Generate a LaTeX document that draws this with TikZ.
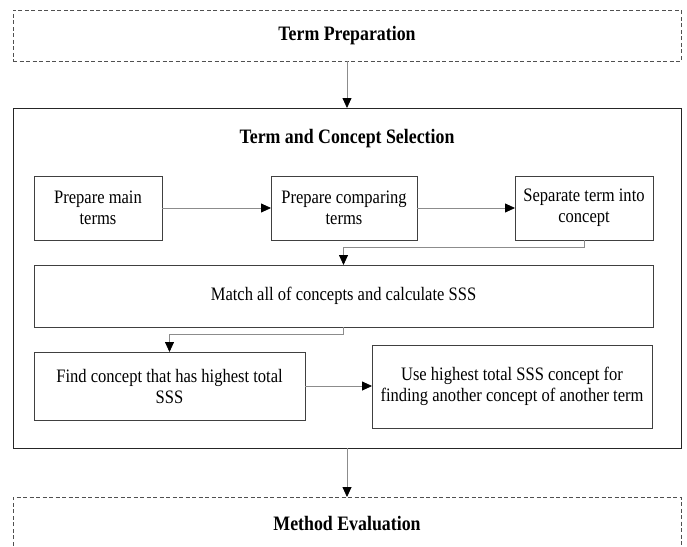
\documentclass[tikz,border=0pt]{standalone}
\usepackage{fontspec}
\setmainfont{Liberation Serif}[FakeStretch=0.87]
\usetikzlibrary{arrows.meta}
\definecolor{boxcol}{HTML}{404040}
\definecolor{conncol}{HTML}{8C8C8C}
\definecolor{dashcol}{HTML}{505050}
\begin{document}
\begin{tikzpicture}[x=1pt,y=-1pt,
  stepbox/.style={draw=boxcol,line width=0.9pt,outer sep=0pt,inner sep=0pt,align=center,font=\fontsize{19}{21}\selectfont},
  dashbox/.style={draw=dashcol,line width=0.8pt,dash pattern=on 4pt off 2.5pt},
  framebox/.style={draw=black!85,line width=0.9pt,outer sep=0pt,inner sep=0pt},
  titletext/.style={font=\fontsize{20.5}{22}\selectfont\bfseries,inner sep=0pt},
  conn/.style={draw=conncol,line width=0.8pt,-{Triangle[length=10pt,width=9pt,color=black]}}]
\useasboundingbox (0,0) rectangle (687,546);
% top dashed box
\node[dashbox,outer sep=0pt,minimum width=668pt,minimum height=51pt,font=\fontsize{20.5}{22}\selectfont\bfseries] (prep) at (347,35.5) {Term Preparation};
% big frame
\node[framebox,minimum width=668pt,minimum height=340pt] (sel) at (347,278) {};
\node[titletext,anchor=base] (seltitle) at (347,143) {Term and Concept Selection};
% steps
\node[stepbox,minimum width=128pt,minimum height=64pt] (b1) at (98,208) {Prepare main\\terms};
\node[stepbox,minimum width=146pt,minimum height=64pt] (b2) at (344,208) {Prepare comparing\\terms};
\node[stepbox,minimum width=138pt,minimum height=64pt] (b3) at (584,208) {Separate term into\\concept};
\node[stepbox,minimum width=619pt,minimum height=62pt] (b4) at (343.5,296) {Match all of concepts and calculate SSS};
\node[stepbox,minimum width=271pt,minimum height=68pt] (b5) at (169.5,386) {Find concept that has highest total\\SSS};
\node[stepbox,minimum width=280pt,minimum height=83pt] (b6) at (512,386.5) {Use highest total SSS concept for\\finding another concept of another term};
% bottom dashed box (cut off at the lower edge)
\draw[dashbox] (13,552) -- (13,497) -- (681,497) -- (681,552);
\coordinate (evaltop) at (347,497);
\node[titletext,anchor=base] (eval) at (347,530) {Method Evaluation};
% connectors
\draw[conn] (prep.south) -- (prep.south |- sel.north);
\draw[conn] (b1.east) -- (b2.west);
\draw[conn] (b2.east) -- (b3.west);
\draw[conn] (b3.south) -- ++(0,7) -| (b4.north);
\draw[conn] (b4.south) -- ++(0,7) -| (b5.north);
\draw[conn] (b5.east) -- (b5.east -| b6.west);
\draw[conn] (sel.south) -- (evaltop);
\end{tikzpicture}
\end{document}
